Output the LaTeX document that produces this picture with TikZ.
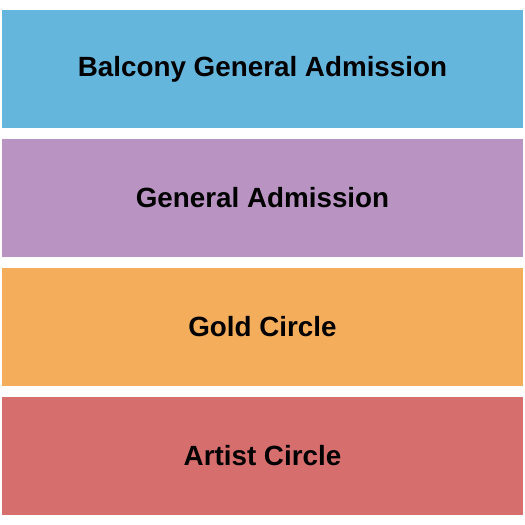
\documentclass[tikz,border=0pt]{standalone}
\usepackage{fontspec}
\setmainfont{Liberation Sans}
\definecolor{balcblue}{RGB}{101, 182, 221}
\definecolor{gapurple}{RGB}{185, 147, 194}
\definecolor{goldorange}{RGB}{244, 174, 91}
\definecolor{artistred}{RGB}{214, 110, 110}
\usetikzlibrary{positioning}
\tikzset{
  section/.style={minimum width=521pt, minimum height=118pt, inner sep=0pt,
    font=\fontsize{27.8}{32}\selectfont\bfseries, text=black}
}

\begin{document}
\begin{tikzpicture}[x=1pt, y=-1pt]
  % Page frame
  \useasboundingbox (0, 0) rectangle (525, 525);

  % Seating sections, top to bottom
  \node[section, fill=balcblue] (balcony) at (262.5, 69) {Balcony General Admission};
  \node[section, fill=gapurple] (general) at (262.5, 198) {General Admission};
  \node[section, fill=goldorange] (gold) at (262.5, 327) {Gold Circle};
  \node[section, fill=artistred] (artist) at (262.5, 455.5) {Artist Circle};
\end{tikzpicture}
\end{document}
